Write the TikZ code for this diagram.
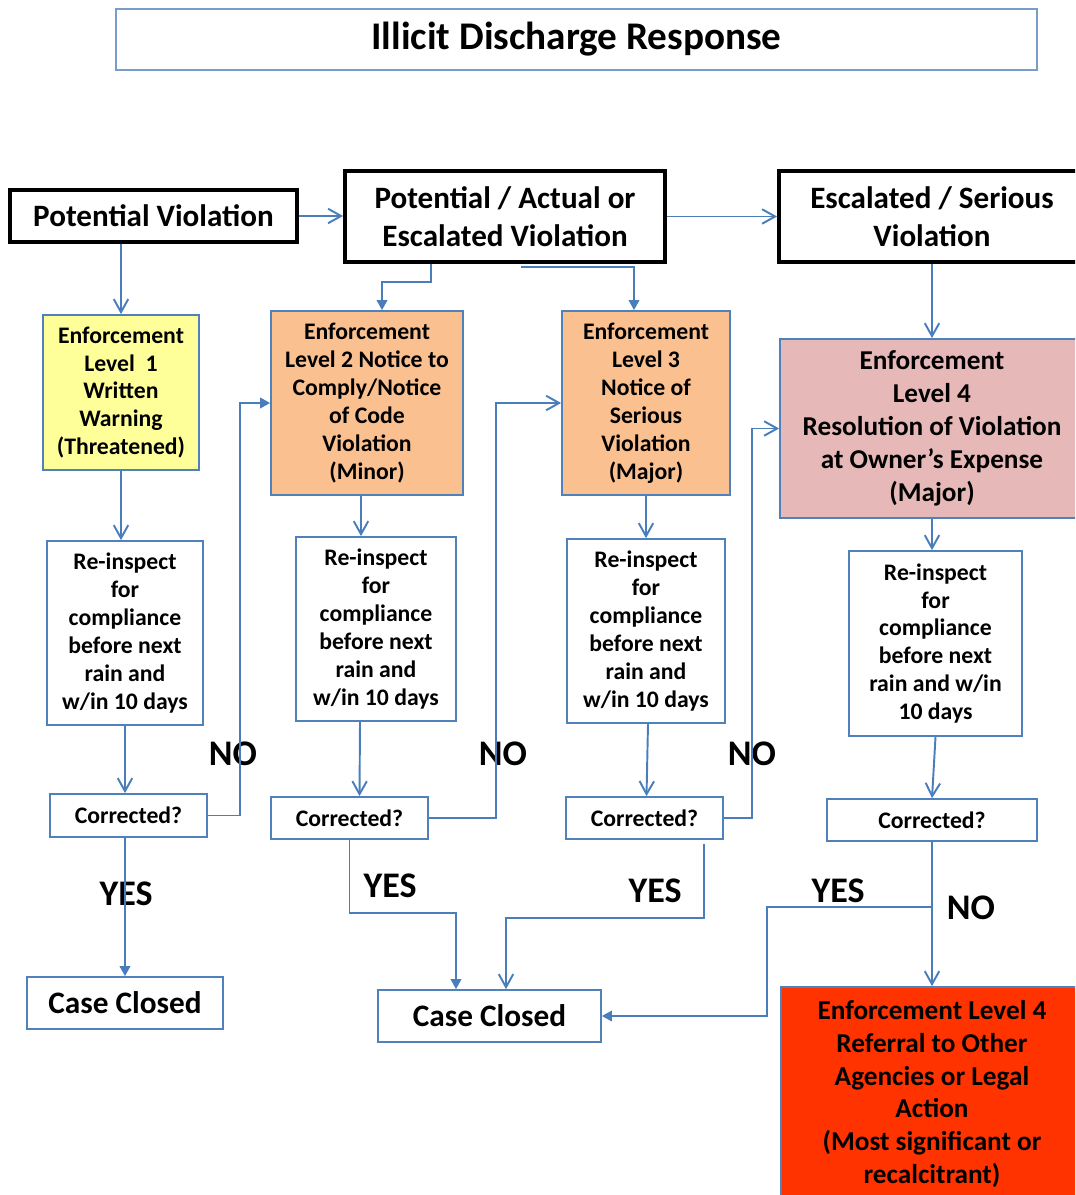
\documentclass[tikz,border=0pt]{standalone}
\usepackage{fontspec}
\setmainfont{Carlito}
\usetikzlibrary{arrows.meta,calc}
\definecolor{lineblue}{HTML}{4A7EBB}
\definecolor{boxblue}{HTML}{4F81BD}
\definecolor{titleblue}{HTML}{7A9CCB}
\definecolor{lvlyellow}{HTML}{FFFF99}
\definecolor{lvlpeach}{HTML}{FAC090}
\definecolor{lvlpink}{HTML}{E6B9B8}
\definecolor{lvlred}{HTML}{FF3300}
\tikzset{
  boxsize/.style 2 args={minimum width=#1*0.02cm,minimum height=#2*0.02cm},
  vbox/.style={draw=black,line width=2.2pt,inner sep=0pt,align=center,font=\fontsize{17.7}{21.5}\selectfont\bfseries},
  ebox/.style={draw=boxblue,line width=1pt,inner sep=0pt,align=center,font=\fontsize{13.5}{15.9}\selectfont\bfseries},
  cbox/.style={draw=boxblue,line width=1pt,inner sep=0pt,align=center,font=\fontsize{17.8}{21}\selectfont\bfseries},
  bigebox/.style={ebox,font=\fontsize{15.5}{18.7}\selectfont\bfseries},
  yn/.style={font=\fontsize{20.5}{24}\selectfont\bfseries},
  opn/.style={draw=lineblue,line width=1.1pt,-{Straight Barb[length=2.6mm,width=2.9mm]}},
  fil/.style={draw=lineblue,line width=1.1pt,-{Triangle[length=2mm,width=2.1mm]}},
}
\begin{document}
\begin{tikzpicture}[x=0.02cm,y=-0.02cm]
\useasboundingbox (0,0) rectangle (1075,1195);
\clip (0,0) rectangle (1075,1195);
% title
\node[draw=titleblue,line width=1pt,boxsize={921}{61},font=\fontsize{22.3}{26}\selectfont\bfseries] (title) at (576.5,39.5) {Illicit Discharge Response};
% violations
\node[vbox,boxsize={287}{52}] (PV) at (153.5,216) {Potential Violation};
\node[vbox,boxsize={320}{91}] (PA) at (505,216.5) {Potential / Actual or\\Escalated Violation};
\node[vbox,boxsize={306}{91}] (Esc) at (932,216.5) {Escalated / Serious\\Violation};
% enforcement levels
\node[ebox,fill=lvlyellow,boxsize={156}{155}] (EL1) at (121,392.5) {Enforcement\\Level\ \ 1\\Written\\Warning\\(Threatened)};
\node[ebox,fill=lvlpeach,boxsize={192}{184}] (EL2) at (367,403) {Enforcement\\Level 2 Notice to\\Comply/Notice\\of Code\\Violation\\(Minor)};
\node[ebox,fill=lvlpeach,boxsize={168}{184}] (EL3) at (646,403) {Enforcement\\Level 3\\Notice of\\Serious\\Violation\\(Major)};
\node[bigebox,fill=lvlpink,boxsize={304}{179}] (EL4) at (932,428.5) {Enforcement\\Level 4\\Resolution of Violation\\at Owner’s Expense\\(Major)};
\node[bigebox,fill=lvlred,boxsize={302}{214}] (Ref) at (932,1094) {Enforcement Level 4\\Referral to Other\\Agencies or Legal\\Action\\(Most significant or\\recalcitrant)};
% re-inspections
\node[ebox,boxsize={156}{184}] (R1) at (125,633) {Re-inspect\\for\\compliance\\before next\\rain and\\w/in 10 days};
\node[ebox,boxsize={160}{184}] (R2) at (376,629) {Re-inspect\\for\\compliance\\before next\\rain and\\w/in 10 days};
\node[ebox,boxsize={158}{184}] (R3) at (646,631) {Re-inspect\\for\\compliance\\before next\\rain and\\w/in 10 days};
\node[ebox,boxsize={173}{185}] (R4) at (935.5,643.5) {Re-inspect\\for\\compliance\\before next\\rain and w/in\\10 days};
% corrected?
\node[ebox,boxsize={157}{43}] (C1) at (128.5,815.5) {Corrected?};
\node[ebox,boxsize={157}{42}] (C2) at (349.5,818) {Corrected?};
\node[ebox,boxsize={157}{42}] (C3) at (644.5,818) {Corrected?};
\node[ebox,boxsize={210}{42}] (C4) at (932,820) {Corrected?};
% case closed
\node[cbox,boxsize={196}{52}] (CC1) at (125,1003) {Case Closed};
\node[cbox,boxsize={223}{52}] (CC2) at (489.5,1016) {Case Closed};
% labels
\node[yn] (no1) at (233,754) {NO};
\node[yn] (no2) at (503,754) {NO};
\node[yn] (no3) at (752,754) {NO};
\node[yn] (no4) at (971,908) {NO};
\node[yn] (yes1) at (126,894) {YES};
\node[yn] (yes2) at (390,886) {YES};
\node[yn] (yes3) at (655,891) {YES};
\node[yn] (yes4) at (838,891) {YES};
% connectors
\draw[opn] (PV.east) -- (PA.west |- PV.east);
\draw[opn] (PA.east) -- (Esc.west);
\draw[opn] (PV.south -| EL1.north) -- (EL1.north);
\draw[fil] ($(PA.south west)+(88,0)$) -- ++(0,18) -| ($(EL2.north)+(15,0)$);
\draw[fil] ($(PA.south west)+(178,3)$) -| ($(EL3.north)+(-12,0)$);
\draw[opn] (Esc.south) -- (EL4.north);
\draw[opn] (EL1.south) -- (EL1.south |- R1.north);
\draw[opn] ($(EL2.south)+(-6,0)$) -- ($(R2.north)+(-15,0)$);
\draw[opn] (EL3.south) -- (R3.north);
\draw[opn] (EL4.south) -- (EL4.south |- R4.north);
\draw[opn] (R1.south) -- (R1.south |- C1.north);
\draw[opn] ($(R2.south)+(-16,0)$) -- ($(C2.north)+(10,0)$);
\draw[opn] ($(R3.south)+(2,0)$) -- ($(C3.north)+(2,0)$);
\draw[opn] (R4.south) -- (C4.north);
\draw[fil] (C1.east) -- ++(32,0) |- (EL2.west);
\draw[opn] (C2.east) -- ++(67,0) |- (EL3.west);
\draw[opn] (C3.east) -- ++(28,0) |- (EL4.west);
\draw[fil] (CC1.north |- C1.south) -- (CC1.north);
\draw[fil] (C2.south) -- ++(0,73) -| ($(CC2.north)+(-33.5,0)$);
\draw[opn] ($(C3.south)+(59.5,4)$) -- ++(0,74) -| ($(CC2.north)+(16.5,0)$);
\coordinate (j4) at ($(C4.south)+(0,65)$);
\draw[opn] (C4.south) -- (Ref.north);
\draw[fil] (j4) -- ++(-165,0) |- (CC2.east);
\end{tikzpicture}
\end{document}
